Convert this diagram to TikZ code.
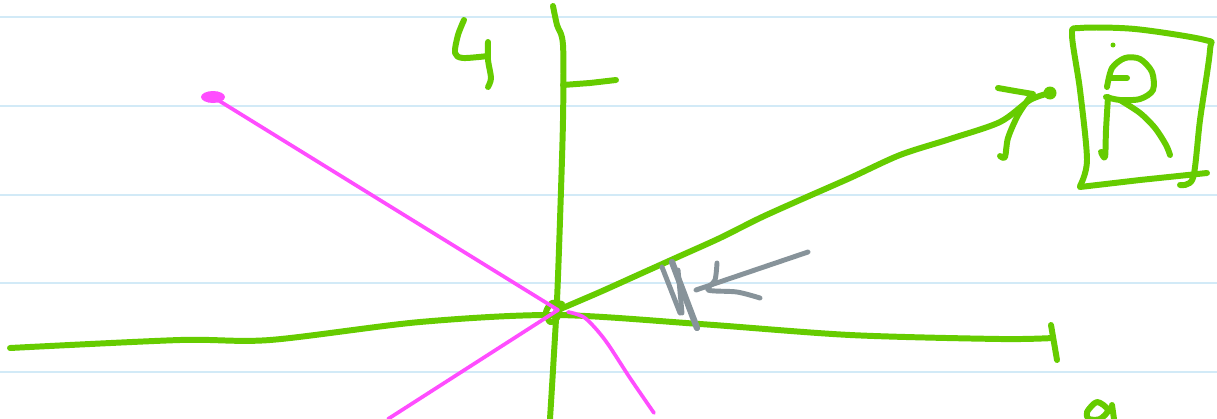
\documentclass[tikz,border=0pt]{standalone}
\usetikzlibrary{arrows.meta,positioning}
\definecolor{inkgreen}{HTML}{66CC00}
\definecolor{inkpink}{HTML}{FF4DFF}
\definecolor{inkgray}{HTML}{87939A}
\definecolor{ruled}{HTML}{D2EAF7}
\begin{document}
\begin{tikzpicture}[
    x={(0.02cm,0)}, y={(0,-0.02cm)},
    rule/.style={ruled, line width=0.9pt},
    green ink/.style={inkgreen, line width=3.4pt, line cap=round, line join=round},
    pink ink/.style={inkpink, line width=2.1pt, line cap=round, line join=round},
    gray ink/.style={inkgray, line width=2.8pt, line cap=round, line join=round}
  ]
    \useasboundingbox (0,0) rectangle (1217,419);
    \fill[white] (0,0) rectangle (1217,419);

    % notebook lines
    \foreach \yy in {17,106,195,283,372}
      \draw[rule] (0,\yy) -- (1217,\yy);

    \coordinate (o) at (558,310);
    \coordinate (tip) at (1050,93);
    \coordinate (p1) at (213,97);
    \coordinate (p2) at (388,419);

    % axes
    \draw[green ink] plot[smooth] coordinates {(553,6) (557,25) (563,45) (563,120) (560,220) (557,300) (553,370) (550,419)};
    \draw[green ink] (563,85) -- (590,83) -- (616,80);
    \draw[green ink] plot[smooth] coordinates {(10,348) (180,340) (270,340) (420,322) (555,315) (700,324) (850,335) (1000,339) (1053,338)};
    \draw[green ink] (1051,325) -- (1057,360);

    % axis labels
    \draw[green ink] plot[smooth] coordinates {(464,20) (458,35) (455,53) (463,58) (488,56)};
    \draw[green ink] plot[smooth] coordinates {(488,42) (488,60) (491,78) (488,87)};
    \draw[green ink] plot[smooth cycle] coordinates {(1087,412) (1097,402) (1108,410) (1100,419) (1089,419)};
    \draw[green ink] (1112,405) -- (1114,419);

    % origin loop
    \draw[green ink] plot[smooth] coordinates {(562,304) (552,303) (546,312) (550,322) (557,318) (560,308)};

    % vector to R
    \draw[green ink] plot[smooth] coordinates {(o) (600,292) (640,274) (680,256) (720,238) (760,218) (800,200) (850,178) (900,155) (950,139) (1000,122) (1030,100) (tip)};
    \fill[inkgreen] (tip) circle[radius=6.5];
    \draw[green ink] (998,88) -- (1015,91) -- (1033,94);
    \draw[green ink] plot[smooth] coordinates {(1030,97) (1018,115) (1008,138) (1005,157) (1000,156)};

    % box with R
    \draw[green ink] plot[smooth] coordinates {(1080,186) (1087,160) (1080,90) (1072,35) (1080,28) (1135,29) (1205,40) (1210,50) (1200,120) (1193,178) (1180,185)};
    \draw[green ink] (1080,187) -- (1140,180) -- (1207,173);
    \fill[inkgreen] (1113,45) circle[radius=2.5];
    \draw[green ink] plot[smooth] coordinates {(1108,97) (1106,130) (1105,157) (1101,152)};
    \draw[green ink] plot[smooth] coordinates {(1107,87) (1112,68) (1125,58) (1140,59) (1152,72) (1153,90) (1140,99) (1120,100) (1106,97)};
    \draw[green ink] (1110,78) -- (1127,78);
    \draw[green ink] plot[smooth] coordinates {(1120,100) (1140,113) (1155,128) (1166,145) (1170,155)};

    % pink lines
    \draw[pink ink] (p1) -- (o);
    \draw[pink ink] (p2) -- (o);
    \fill[inkpink] (p1) ellipse[x radius=12, y radius=6];
    \draw[pink ink] plot[smooth] coordinates {(568,312) (585,318) (605,340) (630,378) (654,413)};

    % gray arrow and scribble
    \draw[gray ink] (808,252) -- (696,290);
    \draw[gray ink] plot[smooth] coordinates {(717,263) (715,280) (708,290) (737,292) (760,298)};
    \draw[gray ink] (662,267) -- (680,313);
    \draw[gray ink, line width=3.6pt] (672,262) -- (697,328);
    \draw[gray ink] (678,270) -- (682,313);
  \end{tikzpicture}
\end{document}
